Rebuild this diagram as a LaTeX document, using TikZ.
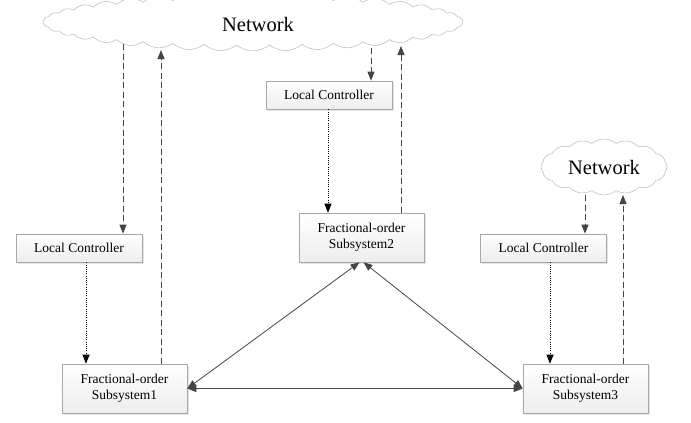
\documentclass[tikz,border=0pt]{standalone}
\usepackage{fontspec}
\setmainfont{Liberation Serif}
\usetikzlibrary{shapes.symbols,shadows,arrows.meta}
\definecolor{linegray}{HTML}{454545}
\definecolor{boxborder}{HTML}{A8A8A8}
\tikzset{
  box/.style={draw=boxborder, line width=0.6pt, top color=white, bottom color=gray!14,
    drop shadow={shadow xshift=1.5pt, shadow yshift=-1.5pt, fill=gray!35, opacity=0.6},
    font=\fontsize{13.5}{16}\selectfont, align=center, inner sep=0pt},
  lcbox/.style={box, minimum width=126pt, minimum height=28pt},
  subbox/.style={box, minimum width=125pt, minimum height=49pt},
  netcloud/.style={cloud, draw=gray!55, line width=0.5pt, fill=white, cloud ignores aspect,
    font=\fontsize{20.5}{24}\selectfont, inner sep=0pt},
  tip/.style={-{Triangle[length=9pt,width=7pt]}},
  dtip/.style={{Triangle[length=9pt,width=7pt]}-{Triangle[length=9pt,width=7pt]}},
  dasharrow/.style={tip, draw=linegray, line width=0.8pt, dash pattern=on 6pt off 3.5pt, fill=linegray},
  dotarrow/.style={tip, draw=black, line width=0.9pt, dash pattern=on 1pt off 1.2pt},
  link/.style={dtip, draw=linegray, line width=0.8pt}
}
\begin{document}
\begin{tikzpicture}[x=1pt,y=-1pt]
\useasboundingbox (0,0) rectangle (691,423);
% clouds
\node[netcloud, cloud puffs=40, cloud puff arc=80, minimum width=420pt, minimum height=58pt] (bignet) at (253,22) {};
\node[font=\fontsize{20.5}{24}\selectfont] (bignettext) at (258,24) {Network};
\node[netcloud, cloud puffs=16, cloud puff arc=80, minimum width=126pt, minimum height=56pt] (smallnet) at (604,167) {Network};
% boxes
\node[lcbox] (lc1) at (79,248) {Local Controller};
\node[lcbox] (lc2) at (329,95) {Local Controller};
\node[lcbox] (lc3) at (543.5,248) {Local Controller};
\node[subbox] (sub1) at (124.5,388.5) {Fractional-order\\Subsystem1};
\node[subbox] (sub2) at (361.5,237.5) {Fractional-order\\Subsystem2};
\node[subbox] (sub3) at (585.5,388.5) {Fractional-order\\Subsystem3};
% cloud attachment points
\coordinate (c1a) at (123,44);
\coordinate (c1b) at (161,50);
\coordinate (c2a) at (371,48);
\coordinate (c2b) at (401,46);
\coordinate (c3a) at (585,195);
\coordinate (c3b) at (623,195);
% network arrows
\draw[dasharrow] (c1a) -- (c1a |- lc1.north);
\draw[dasharrow] (c1b |- sub1.north) -- (c1b);
\draw[dasharrow] (c2a) -- (c2a |- lc2.north);
\draw[dasharrow] (c2b |- sub2.north) -- (c2b);
\draw[dasharrow] (c3a) -- (c3a |- lc3.north);
\draw[dasharrow] (c3b |- sub3.north) -- (c3b);
% controller arrows
\draw[dotarrow] ([xshift=7pt]lc1.south) -- ([xshift=7pt]lc1.south |- sub1.north);
\draw[dotarrow] ([xshift=-1pt]lc2.south) -- ([xshift=-1pt]lc2.south |- sub2.north);
\draw[dotarrow] ([xshift=6.5pt]lc3.south) -- ([xshift=6.5pt]lc3.south |- sub3.north);
% interconnections
\draw[link] (sub1.east) -- ([xshift=-2pt]sub2.south);
\draw[link] ([xshift=2pt]sub2.south) -- (sub3.west);
\draw[link] (sub1.east) -- (sub3.west);
\end{tikzpicture}
\end{document}
